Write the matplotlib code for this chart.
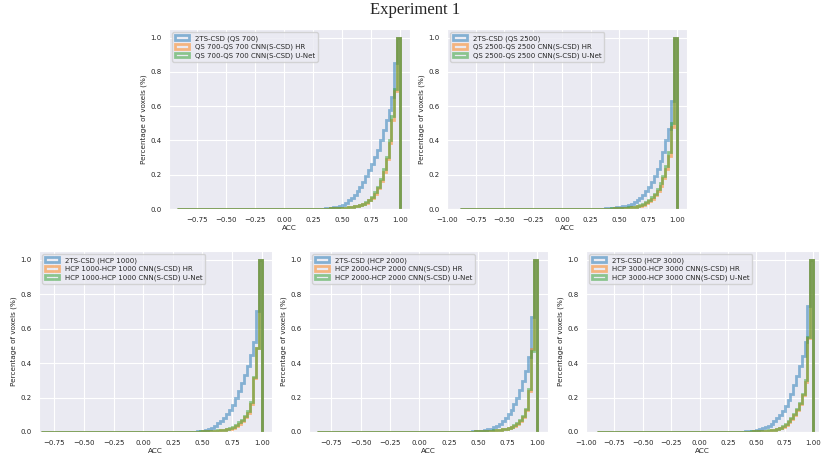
import numpy as np
import matplotlib
matplotlib.use("Agg")
import matplotlib.pyplot as plt
import seaborn as sns

sns.set_style("darkgrid")
plt.rcParams['font.family'] = ['DejaVu Sans']

# bin edges of the tail (left part of every histogram is ~0)
tail_edges = [0.300, 0.325, 0.350, 0.375, 0.400, 0.425, 0.450, 0.475, 0.500,
              0.525, 0.550, 0.575, 0.600, 0.625, 0.650, 0.675, 0.700, 0.725,
              0.750, 0.775, 0.800, 0.825, 0.850, 0.875, 0.900, 0.925, 0.950,
              0.975, 1.000]

titles = ["QS 700", "QS 2500", "HCP 1000", "HCP 2000", "HCP 3000"]
acc_min = [-0.92, -0.89, -0.86, -0.87, -0.90]

# cumulative fraction of voxels per bin: first value = [acc_min, 0.30], then tail bins
csd_2ts = [
    [0.000, 0.001, 0.002, 0.003, 0.004, 0.006, 0.009, 0.013, 0.018, 0.026, 0.036, 0.050, 0.065, 0.083,
     0.104, 0.128, 0.156, 0.190, 0.225, 0.262, 0.302, 0.345, 0.400, 0.460, 0.520, 0.580, 0.655, 0.850, 1.000],
    [0.000, 0.001, 0.001, 0.002, 0.003, 0.004, 0.005, 0.007, 0.009, 0.012, 0.016, 0.020, 0.025, 0.031,
     0.040, 0.050, 0.064, 0.080, 0.103, 0.130, 0.160, 0.192, 0.232, 0.278, 0.335, 0.400, 0.465, 0.630, 1.000],
    [0.000, 0.000, 0.001, 0.001, 0.001, 0.002, 0.002, 0.003, 0.005, 0.008, 0.012, 0.018, 0.026, 0.036,
     0.050, 0.066, 0.083, 0.103, 0.128, 0.158, 0.196, 0.240, 0.282, 0.328, 0.385, 0.445, 0.525, 0.700, 1.000],
    [0.000, 0.000, 0.001, 0.001, 0.001, 0.002, 0.002, 0.003, 0.004, 0.006, 0.008, 0.011, 0.015, 0.020,
     0.027, 0.036, 0.047, 0.062, 0.080, 0.102, 0.128, 0.160, 0.200, 0.245, 0.295, 0.352, 0.435, 0.670, 1.000],
    [0.000, 0.001, 0.001, 0.002, 0.002, 0.003, 0.004, 0.005, 0.007, 0.010, 0.015, 0.021, 0.028, 0.037,
     0.048, 0.062, 0.080, 0.100, 0.123, 0.150, 0.183, 0.222, 0.270, 0.325, 0.380, 0.440, 0.520, 0.730, 1.000],
]
cnn_hr = [
    [0.000, 0.001, 0.001, 0.002, 0.002, 0.003, 0.003, 0.004, 0.005, 0.006, 0.007, 0.009, 0.012, 0.015,
     0.018, 0.023, 0.029, 0.037, 0.050, 0.065, 0.088, 0.120, 0.162, 0.218, 0.290, 0.385, 0.520, 0.690, 1.000],
    [0.000, 0.001, 0.001, 0.001, 0.002, 0.002, 0.002, 0.003, 0.003, 0.004, 0.005, 0.006, 0.008, 0.010,
     0.012, 0.016, 0.020, 0.026, 0.035, 0.045, 0.060, 0.080, 0.105, 0.137, 0.178, 0.232, 0.310, 0.480, 1.000],
    [0.000, 0.000, 0.000, 0.001, 0.001, 0.001, 0.001, 0.002, 0.002, 0.003, 0.003, 0.004, 0.005, 0.006,
     0.008, 0.010, 0.012, 0.015, 0.020, 0.026, 0.036, 0.049, 0.064, 0.085, 0.113, 0.165, 0.315, 0.490, 1.000],
    [0.000, 0.000, 0.000, 0.001, 0.001, 0.001, 0.002, 0.002, 0.003, 0.003, 0.004, 0.004, 0.005, 0.006,
     0.008, 0.010, 0.012, 0.015, 0.018, 0.022, 0.027, 0.034, 0.046, 0.064, 0.088, 0.127, 0.240, 0.480, 1.000],
    [0.000, 0.000, 0.001, 0.001, 0.001, 0.002, 0.002, 0.002, 0.003, 0.004, 0.004, 0.005, 0.006, 0.008,
     0.010, 0.013, 0.016, 0.021, 0.030, 0.042, 0.056, 0.075, 0.098, 0.125, 0.162, 0.214, 0.292, 0.545, 1.000],
]
cnn_unet = [
    [0.000, 0.001, 0.001, 0.002, 0.002, 0.003, 0.003, 0.004, 0.005, 0.006, 0.008, 0.010, 0.013, 0.016,
     0.020, 0.025, 0.032, 0.042, 0.055, 0.072, 0.097, 0.130, 0.175, 0.232, 0.305, 0.400, 0.540, 0.700, 1.000],
    [0.000, 0.001, 0.001, 0.001, 0.002, 0.002, 0.003, 0.003, 0.004, 0.005, 0.006, 0.007, 0.009, 0.011,
     0.014, 0.018, 0.023, 0.030, 0.040, 0.052, 0.068, 0.090, 0.117, 0.150, 0.192, 0.250, 0.330, 0.500, 1.000],
    [0.000, 0.000, 0.001, 0.001, 0.001, 0.001, 0.002, 0.002, 0.003, 0.003, 0.004, 0.005, 0.006, 0.007,
     0.009, 0.011, 0.013, 0.017, 0.023, 0.031, 0.042, 0.056, 0.072, 0.093, 0.122, 0.175, 0.320, 0.490, 1.000],
    [0.000, 0.000, 0.000, 0.001, 0.001, 0.001, 0.002, 0.002, 0.003, 0.003, 0.004, 0.005, 0.006, 0.007,
     0.009, 0.011, 0.013, 0.016, 0.020, 0.025, 0.031, 0.039, 0.052, 0.070, 0.095, 0.135, 0.250, 0.470, 1.000],
    [0.000, 0.000, 0.001, 0.001, 0.001, 0.002, 0.002, 0.003, 0.003, 0.004, 0.005, 0.006, 0.007, 0.009,
     0.011, 0.014, 0.018, 0.024, 0.034, 0.047, 0.062, 0.082, 0.105, 0.132, 0.170, 0.222, 0.300, 0.550, 1.000],
]

x_limits = [(-0.99, 1.085), (-0.98, 1.089), (-0.88, 1.087), (-0.94, 1.094), (-0.977, 1.052)]
x_ticks = [np.arange(-0.75, 1.01, 0.25), np.arange(-1.0, 1.01, 0.25), np.arange(-0.75, 1.01, 0.25),
           np.arange(-0.75, 1.01, 0.25), np.arange(-1.0, 1.01, 0.25)]

# axes boxes in pixels: left, right, top, bottom
W, H = 830, 457
boxes = [(169, 410, 29, 209), (447, 687, 29, 209),
         (39, 272, 251, 432), (309, 548, 251, 432), (586, 819, 251, 432)]

fig = plt.figure(figsize=(W / 100, H / 100), dpi=100)

for i, name in enumerate(titles):
    l, r, t, b = boxes[i]
    ax = fig.add_axes([l / W, 1 - b / H, (r - l) / W, (b - t) / H])
    edges = [acc_min[i]] + tail_edges
    left = edges[:-1]
    if name.startswith("QS"):
        lab_hr = f"{name}-{name} CNN(S-CSD) HR"
        lab_un = f"{name}-{name} CNN(S-CSD) U-Net"
    else:
        lab_hr = f"{name}-{name} CNN(S-CSD) HR"
        lab_un = f"{name}-{name} CNN(S-CSD) U-Net"
    ax.hist(left, bins=edges, weights=csd_2ts[i], histtype='step', lw=2, alpha=0.5,
            color='tab:blue', label=f"2TS-CSD ({name})")
    ax.hist(left, bins=edges, weights=cnn_hr[i], histtype='step', lw=2, alpha=0.5,
            color='tab:orange', label=lab_hr)
    ax.hist(left, bins=edges, weights=cnn_unet[i], histtype='step', lw=2, alpha=0.5,
            color='tab:green', label=lab_un)
    ax.set_xlim(*x_limits[i])
    ax.set_ylim(0, 1.05)
    ax.set_xticks(x_ticks[i])
    ax.set_yticks([0.0, 0.2, 0.4, 0.6, 0.8, 1.0])
    ax.tick_params(labelsize=5, pad=2)
    ax.set_xlabel("ACC", fontsize=5.2, labelpad=1.5)
    ax.set_ylabel("Percentage of voxels (%)", fontsize=5.2, labelpad=2)
    ax.legend(loc='upper left', fontsize=5, handlelength=2, borderpad=0.4, labelspacing=0.3)

fig.text(0.5, 1 - 2 / H, "Experiment 1", ha='center', va='top',
         family='Liberation Serif', fontsize=12)

fig.savefig("out.png", dpi=100)
